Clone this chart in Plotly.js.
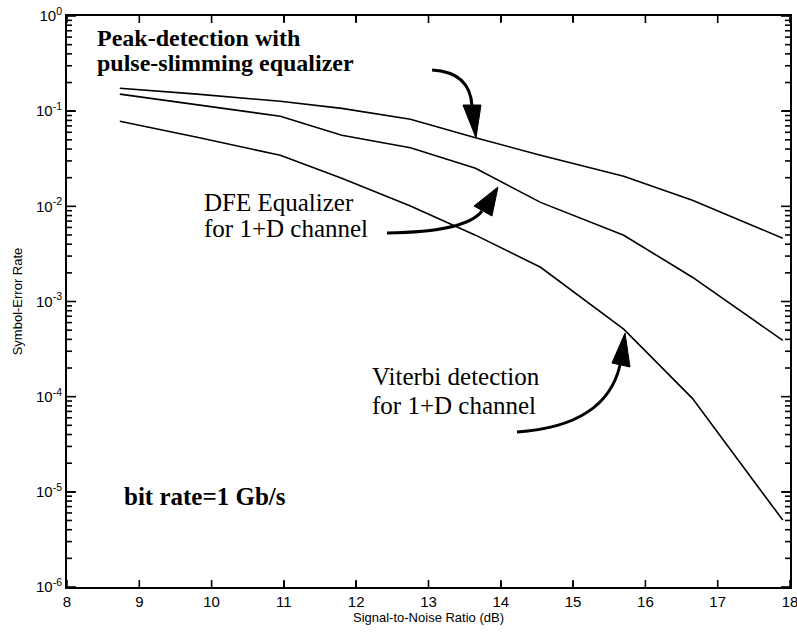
<!DOCTYPE html>
<html>
<head>
<meta charset="utf-8">
<script src="https://cdn.plot.ly/plotly-3.0.1.min.js"></script>
<style>html,body{margin:0;padding:0;background:#fff;}</style>
</head>
<body>
<div id="chart" style="width:797px;height:632px;"></div>
<script>
// ---- data ----
const snr = [8.73, 9.8, 10.95, 11.8, 12.75, 13.65, 14.55, 15.7, 16.65, 17.9];
const peakDetection = [0.174, 0.151, 0.127, 0.107, 0.0822, 0.0526, 0.0344, 0.0207, 0.0116, 0.00462];
const dfeEqualizer = [0.151, 0.117, 0.0884, 0.0558, 0.0413, 0.0251, 0.0110, 0.00497, 0.00180, 0.00039];
const viterbi = [0.0783, 0.0532, 0.0344, 0.0197, 0.0101, 0.00498, 0.00229, 0.000512, 0.000096, 0.00000505];
const xTicks = [8, 9, 10, 11, 12, 13, 14, 15, 16, 17, 18];
const yTickVals = [1e-6, 1e-5, 1e-4, 1e-3, 1e-2, 1e-1, 1];
const yTickText = ['10<sup>-6</sup>', '10<sup>-5</sup>', '10<sup>-4</sup>', '10<sup>-3</sup>', '10<sup>-2</sup>', '10<sup>-1</sup>', '10<sup>0</sup>'];

// ---- layout geometry ----
const W = 797, H = 632;
const M = {l: 67, r: 7, t: 16, b: 45};
const PW = W - M.l - M.r, PH = H - M.t - M.b;
function pp(px, py) { return ((px - M.l) / PW).toFixed(4) + ',' + ((H - M.b - py) / PH).toFixed(4); }
function fx(px) { return (px - M.l) / PW; }
function fy(py) { return (H - M.b - py) / PH; }

const lineStyle = {color: '#000', width: 1.6};
const traces = [
  {x: snr, y: peakDetection, mode: 'lines', line: lineStyle, name: 'Peak-detection', hoverinfo: 'skip'},
  {x: snr, y: dfeEqualizer, mode: 'lines', line: lineStyle, name: 'DFE', hoverinfo: 'skip'},
  {x: snr, y: viterbi, mode: 'lines', line: lineStyle, name: 'Viterbi', hoverinfo: 'skip'}
];

function curve(p0, c, p1) {
  return {type: 'path', xref: 'paper', yref: 'paper', layer: 'above',
    path: 'M' + pp(p0[0], p0[1]) + ' Q' + pp(c[0], c[1]) + ' ' + pp(p1[0], p1[1]),
    line: {color: '#000', width: 3}};
}
function head(a, b, tip) {
  return {type: 'path', xref: 'paper', yref: 'paper', layer: 'above',
    path: 'M' + pp(a[0], a[1]) + ' L' + pp(b[0], b[1]) + ' L' + pp(tip[0], tip[1]) + ' Z',
    fillcolor: '#000', line: {color: '#000', width: 1}};
}
const shapes = [
  curve([432, 70], [470, 72], [472, 106]), head([463, 105], [481, 105], [476, 138]),
  curve([387, 233], [466, 232], [482, 211]), head([474, 206], [492, 216], [498, 187]),
  curve([517, 432], [606, 426], [620, 365]), head([612, 363], [630, 367], [625, 333])
];

// tick marks (x: integer dB; y: log decades and 2..9 multiples), drawn as paper-relative lines
const minorMult = [2, 3, 4, 5, 6, 7, 8, 9];
const tickLine = {color: '#000', width: 1.6};
function tk(x0, x1, y0, y1) {
  shapes.push({type: 'path', xref: 'paper', yref: 'paper', layer: 'above',
    path: 'M' + x0.toFixed(5) + ',' + y0.toFixed(5) + ' L' + x1.toFixed(5) + ',' + y1.toFixed(5),
    line: tickLine});
}
xTicks.forEach(function (t) {
  const f = (t - 8) / 10;
  tk(f, f, 0, 7 / PH);
  tk(f, f, 1, 1 - 7 / PH);
});
yTickVals.forEach(function (v) {
  const d = Math.log10(v);
  const f = (d + 6) / 6;
  tk(0, 9 / PW, f, f);
  tk(1, 1 - 9 / PW, f, f);
  if (d < 0) {
    minorMult.forEach(function (m) {
      const g = (d + Math.log10(m) + 6) / 6;
      tk(0, 5 / PW, g, g);
      tk(1, 1 - 5 / PW, g, g);
    });
  }
});

const serif = 'Liberation Serif, Times New Roman, serif';
function label(text, px, pyMid, size, bold) {
  return {xref: 'paper', yref: 'paper', x: fx(px), y: fy(pyMid), xanchor: 'left', yanchor: 'middle',
    text: bold ? '<b>' + text + '</b>' : text, showarrow: false,
    font: {family: serif, size: size, color: '#000'}};
}
const annotations = [
  label('Peak-detection with', 95, 38, 24, true),
  label('pulse-slimming equalizer', 95, 63, 24, true),
  label('DFE Equalizer', 202, 202, 25, false),
  label('for 1+D channel', 202, 228, 25, false),
  label('Viterbi detection', 370, 376, 25, false),
  label('for 1+D channel', 370, 405, 25, false),
  label('bit rate=1 Gb/s', 122, 496, 25, true)
];

const sans = 'Liberation Sans, Arial, Helvetica, sans-serif';
const layout = {
  width: W, height: H,
  margin: M,
  paper_bgcolor: '#fff', plot_bgcolor: 'rgba(0,0,0,0)',
  showlegend: false,
  xaxis: {
    range: [8, 18], tickmode: 'array', tickvals: xTicks, ticktext: xTicks.map(String),
    ticks: 'inside', ticklen: 6, tickcolor: '#000', tickwidth: 1.5,
    ticklabeloverflow: 'allow',
    showline: true, linecolor: '#000', linewidth: 2, mirror: 'ticks',
    showgrid: false, zeroline: false,
    tickfont: {family: sans, size: 15, color: '#000'},
    title: {text: 'Signal-to-Noise Ratio (dB)', font: {family: sans, size: 13, color: '#000'}, standoff: 4}
  },
  yaxis: {
    type: 'log', range: [-6, 0], tickmode: 'array', tickvals: yTickVals, ticktext: yTickText,
    ticks: 'inside', ticklen: 8, tickcolor: '#000', tickwidth: 1.5,
    showline: true, linecolor: '#000', linewidth: 2, mirror: 'ticks',
    showgrid: false, zeroline: false,
    tickfont: {family: sans, size: 15, color: '#000'},
    title: {text: 'Symbol-Error Rate', font: {family: sans, size: 13, color: '#000'}, standoff: 10}
  },
  shapes: shapes,
  annotations: annotations
};

Plotly.newPlot('chart', traces, layout, {staticPlot: true, displayModeBar: false});
</script>
</body>
</html>
